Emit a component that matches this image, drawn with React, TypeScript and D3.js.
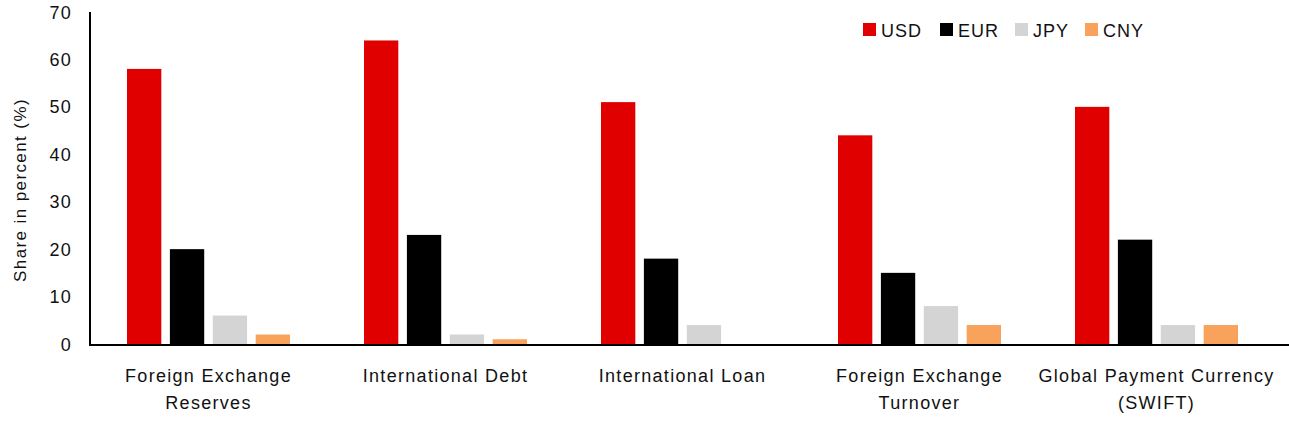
import React, { useEffect, useRef } from 'react';
import * as d3 from 'd3';

const categories = [
  ['Foreign Exchange', 'Reserves'],
  ['International Debt'],
  ['International Loan'],
  ['Foreign Exchange', 'Turnover'],
  ['Global Payment Currency', '(SWIFT)'],
];
const currencies = ['USD', 'EUR', 'JPY', 'CNY'];
const colors = ['#e00000', '#000000', '#d4d4d4', '#f9a25b'];

const usd = [58, 64, 51, 44, 50];
const eur = [20, 23, 18, 15, 22];
const jpy = [6, 2, 4, 8, 4];
const cny = [2, 1, 0, 4, 4];
const yTicks = [0, 10, 20, 30, 40, 50, 60, 70];

const width = 1289;
const height = 433;
const font = 'Liberation Sans, Arial, sans-serif';

const App: React.FC = () => {
  const ref = useRef<SVGSVGElement>(null);

  useEffect(() => {
    const svg = d3.select(ref.current);
    svg.selectAll('*').remove();

    const series = [usd, eur, jpy, cny];
    const left = 90;
    const right = 1275;
    const top = 12;
    const bottom = 344;

    const x0 = d3.scaleBand<number>()
      .domain(d3.range(categories.length))
      .range([left, right])
      .paddingInner(0)
      .paddingOuter(0);

    const x1 = d3.scaleBand<number>()
      .domain(d3.range(currencies.length))
      .range([37, x0.bandwidth() - 37])
      .paddingInner(0.2)
      .paddingOuter(0);

    const y = d3.scaleLinear().domain([0, 70]).range([bottom, top]);

    const groups = svg.selectAll('g.group')
      .data(categories)
      .enter()
      .append('g')
      .attr('class', 'group')
      .attr('transform', (_, i) => `translate(${x0(i)},0)`);

    groups.selectAll('rect')
      .data((_, i) => series.map((s, j) => ({ j, v: s[i] })))
      .enter()
      .append('rect')
      .attr('x', (d) => x1(d.j) ?? 0)
      .attr('y', (d) => y(d.v))
      .attr('width', x1.bandwidth())
      .attr('height', (d) => y(0) - y(d.v))
      .attr('fill', (d) => colors[d.j]);

    // category labels
    groups.append('text')
      .attr('x', x0.bandwidth() / 2)
      .attr('text-anchor', 'middle')
      .attr('font-family', font)
      .attr('font-size', 18)
      .attr('letter-spacing', 1.3)
      .attr('fill', '#111')
      .selectAll('tspan')
      .data((d) => d)
      .enter()
      .append('tspan')
      .attr('x', x0.bandwidth() / 2)
      .attr('y', (_, k) => 382 + k * 27)
      .text((d) => d);

    // axes
    svg.append('line')
      .attr('x1', left).attr('x2', left)
      .attr('y1', top).attr('y2', bottom + 1)
      .attr('stroke', '#000').attr('stroke-width', 2);
    svg.append('line')
      .attr('x1', left - 1).attr('x2', width)
      .attr('y1', bottom + 1).attr('y2', bottom + 1)
      .attr('stroke', '#000').attr('stroke-width', 2);

    svg.selectAll('text.ytick')
      .data(yTicks)
      .enter()
      .append('text')
      .attr('class', 'ytick')
      .attr('x', 72)
      .attr('y', (d) => y(d) + 6.5)
      .attr('text-anchor', 'end')
      .attr('font-family', font)
      .attr('font-size', 18)
      .attr('letter-spacing', 1.3)
      .attr('fill', '#111')
      .text((d) => d);

    svg.append('text')
      .attr('transform', `translate(26,${(top + bottom) / 2 + 12}) rotate(-90)`)
      .attr('text-anchor', 'middle')
      .attr('font-family', font)
      .attr('font-size', 17)
      .attr('letter-spacing', 1.4)
      .attr('fill', '#111')
      .text('Share in percent (%)');

    // legend
    const legendX = [863, 940, 1015, 1085];
    const legend = svg.selectAll('g.legend')
      .data(currencies)
      .enter()
      .append('g')
      .attr('class', 'legend')
      .attr('transform', (_, i) => `translate(${legendX[i]},23)`);
    legend.append('rect')
      .attr('width', 13)
      .attr('height', 13)
      .attr('fill', (_, i) => colors[i]);
    legend.append('text')
      .attr('x', 18)
      .attr('y', 13.5)
      .attr('font-family', font)
      .attr('font-size', 18)
      .attr('letter-spacing', 1)
      .attr('fill', '#111')
      .text((d) => d);
  }, []);

  return (
    <div style={{ position: 'absolute', left: 0, top: 0 }}>
      <svg ref={ref} width={width} height={height} style={{ display: 'block', background: '#fff' }} />
    </div>
  );
};

export default App;
